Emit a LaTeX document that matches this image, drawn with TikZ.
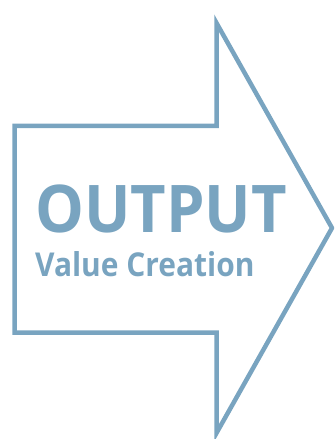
\documentclass[tikz,border=0pt]{standalone}
\usepackage{fontspec}
\usepackage{graphicx}
\setmainfont{Open Sans}
\definecolor{arrowblue}{RGB}{121,164,192}
\begin{document}
\begin{tikzpicture}[x=1bp,y=-1bp,
  outline/.style={draw=arrowblue,line width=4.5bp,line join=miter,miter limit=20},
  bigtxt/.style={text=arrowblue,font=\bfseries\fontsize{66}{66}\selectfont,inner sep=0,anchor=base west},
  subtxt/.style={text=arrowblue,font=\bfseries\fontsize{33}{33}\selectfont,inner sep=0,anchor=base west}]
\path[use as bounding box] (0,0) rectangle (334,439);
\begin{scope}
\clip (0,0) rectangle (334,439);
\draw[outline] (14.5,126) -- (216.5,126) -- (216.5,23) -- (332,228) -- (216.5,433) -- (216.5,332.5) -- (14.5,332.5) -- cycle;
\end{scope}
\node[bigtxt] (title) at (35,232) {\scalebox{0.935}[1]{OUTPUT}};
\node[subtxt] (sub) at (35,276) {\scalebox{0.91}[1]{Value Creation}};
\end{tikzpicture}
\end{document}
